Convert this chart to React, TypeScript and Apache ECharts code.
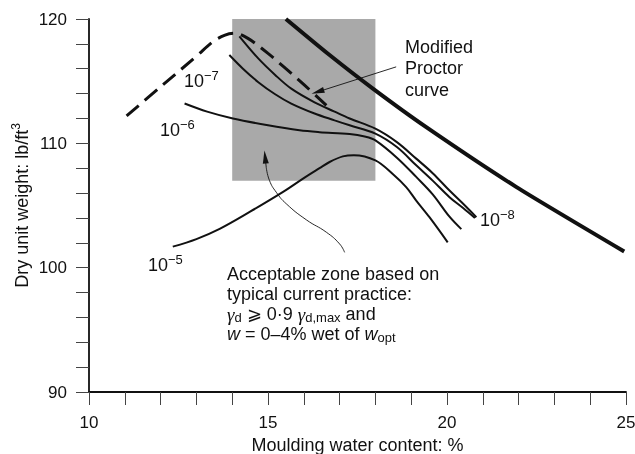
import React, { useEffect, useRef } from 'react';
import * as echarts from 'echarts';

// Axis ranges / tick labels
const xLabelValues = [10, 15, 20, 25];
const yLabelValues = [90, 100, 110, 120];

// Modified Proctor curve (thick line)
const proctorLine = [
  [15.5, 120.0], [16.72, 117.1], [17.93, 114.4], [19.42, 111.3], [21.93, 106.5], [24.95, 101.3],
];

// Dashed compaction curve
const compactionCurve = [
  [11.05, 112.2], [12.0, 114.55], [13.0, 117.0], [13.46, 118.17], [13.8, 118.7], [14.06, 118.85],
  [14.44, 118.44], [15.0, 117.23], [15.5, 116.0], [16.02, 114.68], [16.63, 113.06],
];

// Hydraulic conductivity contours
const k8 = [
  [14.2, 118.6], [14.72, 116.85], [15.2, 115.5], [15.65, 114.4], [16.3, 113.3], [16.86, 112.55],
  [17.28, 112.0], [18.0, 111.18], [18.6, 110.1], [19.14, 108.77], [19.6, 107.6], [20.07, 106.2],
  [20.5, 105.0], [20.82, 104.06],
];
const k7 = [
  [13.92, 117.1], [14.3, 116.0], [14.72, 114.94], [15.2, 113.95], [15.65, 113.2], [16.3, 112.4],
  [16.86, 111.85], [17.28, 111.45], [18.0, 110.78], [18.6, 109.7], [19.14, 108.23], [19.6, 107.0],
  [20.07, 105.67], [20.45, 104.8], [20.78, 104.0],
];
const k6 = [
  [12.67, 113.2], [13.3, 112.55], [14.02, 112.0], [15.0, 111.45], [15.88, 111.05], [16.44, 110.9],
  [17.28, 110.75], [17.7, 110.55], [18.0, 110.24], [18.6, 108.85], [19.14, 107.3], [19.6, 105.9],
  [20.07, 104.1], [20.4, 103.1],
];
const k5 = [
  [12.34, 101.69], [13.0, 102.3], [13.65, 103.12], [14.5, 104.5], [15.41, 106.07], [16.0, 107.2],
  [16.44, 108.0], [16.72, 108.5], [17.09, 108.95], [17.4, 109.05], [18.0, 108.63], [18.5, 107.5],
  [18.86, 106.48], [19.14, 105.4], [19.51, 104.06], [20.02, 102.04],
];

// Acceptable zone
const zoneX = [14, 18];
const zoneY = [107, 120];

// Annotation arrows (data coordinates)
const proctorArrow = [[18.58, 116.15], [16.39, 114.14]];
const zoneArrow = [
  [17.14, 101.23], [17.0, 101.91], [16.63, 102.85], [16.07, 103.85], [15.51, 105.14],
  [15.23, 106.07], [15.04, 107.02], [14.95, 108.09], [14.92, 108.9],
];

const FONT = "'Liberation Sans', Arial, sans-serif";
const INK = '#111';

export default function App() {
  const ref = useRef<HTMLDivElement>(null);

  useEffect(() => {
    const chart = echarts.init(ref.current!, undefined, { renderer: 'svg' });

    const curve = (data: number[][], width: number, extra: any = {}) => ({
      type: 'line',
      data,
      smooth: 0.35,
      showSymbol: false,
      symbol: 'none',
      silent: true,
      z: 3,
      lineStyle: { color: INK, width },
      ...extra,
    });

    const kRich = {
      a: { fontSize: 18, lineHeight: 24, fontFamily: FONT, fill: INK },
      b: { fontSize: 13, lineHeight: 12, verticalAlign: 'top', fontFamily: FONT, fill: INK },
    };
    const kText = (x: number, y: number, exp: string) => ({
      type: 'text',
      x,
      y,
      silent: true,
      style: { text: `{a|10}{b|\u2212${exp}}`, rich: kRich, align: 'left', verticalAlign: 'top', fill: INK },
    });

    const para = {
      n: { fontSize: 18, lineHeight: 20, fontFamily: FONT, fill: INK },
      g: { fontSize: 19, lineHeight: 20, fontFamily: "'Liberation Serif', serif", fontStyle: 'italic', fill: INK },
      i: { fontSize: 18, lineHeight: 20, fontFamily: FONT, fontStyle: 'italic', fill: INK },
      sub: { fontSize: 13, lineHeight: 12, verticalAlign: 'bottom', fontFamily: FONT, fill: INK },
    };

    const n = zoneArrow.length;

    chart.setOption({
      animation: false,
      grid: { left: 89, right: 9, top: 19, bottom: 62, containLabel: false, outerBoundsMode: 'none' },
      xAxis: {
        type: 'value',
        min: 10,
        max: 25,
        interval: 1,
        name: 'Moulding water content: %',
        nameLocation: 'middle',
        nameGap: 44,
        nameMoveOverlap: false,
        nameTextStyle: { fontSize: 18, color: INK, fontFamily: FONT },
        axisLine: { show: true, lineStyle: { color: INK, width: 1.8 } },
        axisTick: { show: true, inside: false, length: 13, lineStyle: { color: '#444', width: 1 } },
        axisLabel: {
          margin: 22,
          fontSize: 17,
          color: INK,
          fontFamily: FONT,
          formatter: (v: number) => (xLabelValues.includes(v) ? String(v) : ''),
        },
        splitLine: { show: false },
      },
      yAxis: {
        type: 'value',
        min: 90,
        max: 120,
        interval: 2,
        name: 'Dry unit weight: lb/ft{s|3}',
        nameLocation: 'middle',
        nameGap: 55,
        nameMoveOverlap: false,
        nameTextStyle: {
          fontSize: 18,
          color: INK,
          fontFamily: FONT,
          lineHeight: 24,
          rich: { s: { fontSize: 12, lineHeight: 12, verticalAlign: 'top', color: INK, fontFamily: FONT } },
        },
        axisLine: { show: true, lineStyle: { color: INK, width: 1.8 } },
        axisTick: { show: true, inside: false, length: 13, lineStyle: { color: '#444', width: 1 } },
        axisLabel: {
          margin: 22,
          fontSize: 17,
          color: INK,
          fontFamily: FONT,
          formatter: (v: number) => (yLabelValues.includes(v) ? String(v) : ''),
        },
        splitLine: { show: false },
      },
      series: [
        curve(proctorLine, 4, {
          smooth: 0.2,
          markArea: {
            silent: true,
            itemStyle: { color: '#a9a9a9', opacity: 1 },
            data: [[{ coord: [zoneX[0], zoneY[1]] }, { coord: [zoneX[1], zoneY[0]] }]],
          },
          markLine: {
            silent: true,
            symbol: ['none', 'triangle'],
            symbolSize: [6, 13],
            label: { show: false },
            lineStyle: { color: INK, width: 0.9, type: 'solid', curveness: -0.11 },
            data: [[{ coord: proctorArrow[0] }, { coord: proctorArrow[1] }]],
          },
        }),
        curve(compactionCurve, 3, { lineStyle: { color: INK, width: 3, type: [16, 8] } }),
        curve(k8, 2),
        curve(k7, 2),
        curve(k6, 2),
        curve(k5, 2),
        curve(zoneArrow.slice(0, n - 1), 0.9, {
          smooth: 0.5,
          markLine: {
            silent: true,
            symbol: ['none', 'triangle'],
            symbolSize: [6, 13],
            label: { show: false },
            lineStyle: { color: INK, width: 0.9, type: 'solid' },
            data: [[{ coord: zoneArrow[n - 2] }, { coord: zoneArrow[n - 1] }]],
          },
        }),
      ],
      graphic: [
        kText(184, 69, '7'),
        kText(160, 118, '6'),
        kText(148, 253, '5'),
        kText(480, 208, '8'),
        {
          type: 'text',
          x: 405,
          y: 36,
          silent: true,
          style: {
            text: 'Modified\nProctor\ncurve',
            fill: INK,
            font: `18px ${FONT}`,
            lineHeight: 21.5,
            align: 'left',
            verticalAlign: 'top',
          },
        },
        {
          type: 'text',
          x: 227,
          y: 264,
          silent: true,
          style: {
            text:
              '{n|Acceptable zone based on}\n' +
              '{n|typical current practice:}\n' +
              '{g|\u03b3}{sub|d}{n| \u2A7E 0\u00b79 }{g|\u03b3}{sub|d,max}{n| and}\n' +
              '{i|w}{n| = 0\u20134% wet of }{i|w}{sub|opt}',
            rich: para,
            fill: INK,
            align: 'left',
            verticalAlign: 'top',
          },
        },
      ],
    });

    return () => chart.dispose();
  }, []);

  return <div ref={ref} style={{ position: 'fixed', left: 0, top: 0, width: 635, height: 454 }} />;
}
